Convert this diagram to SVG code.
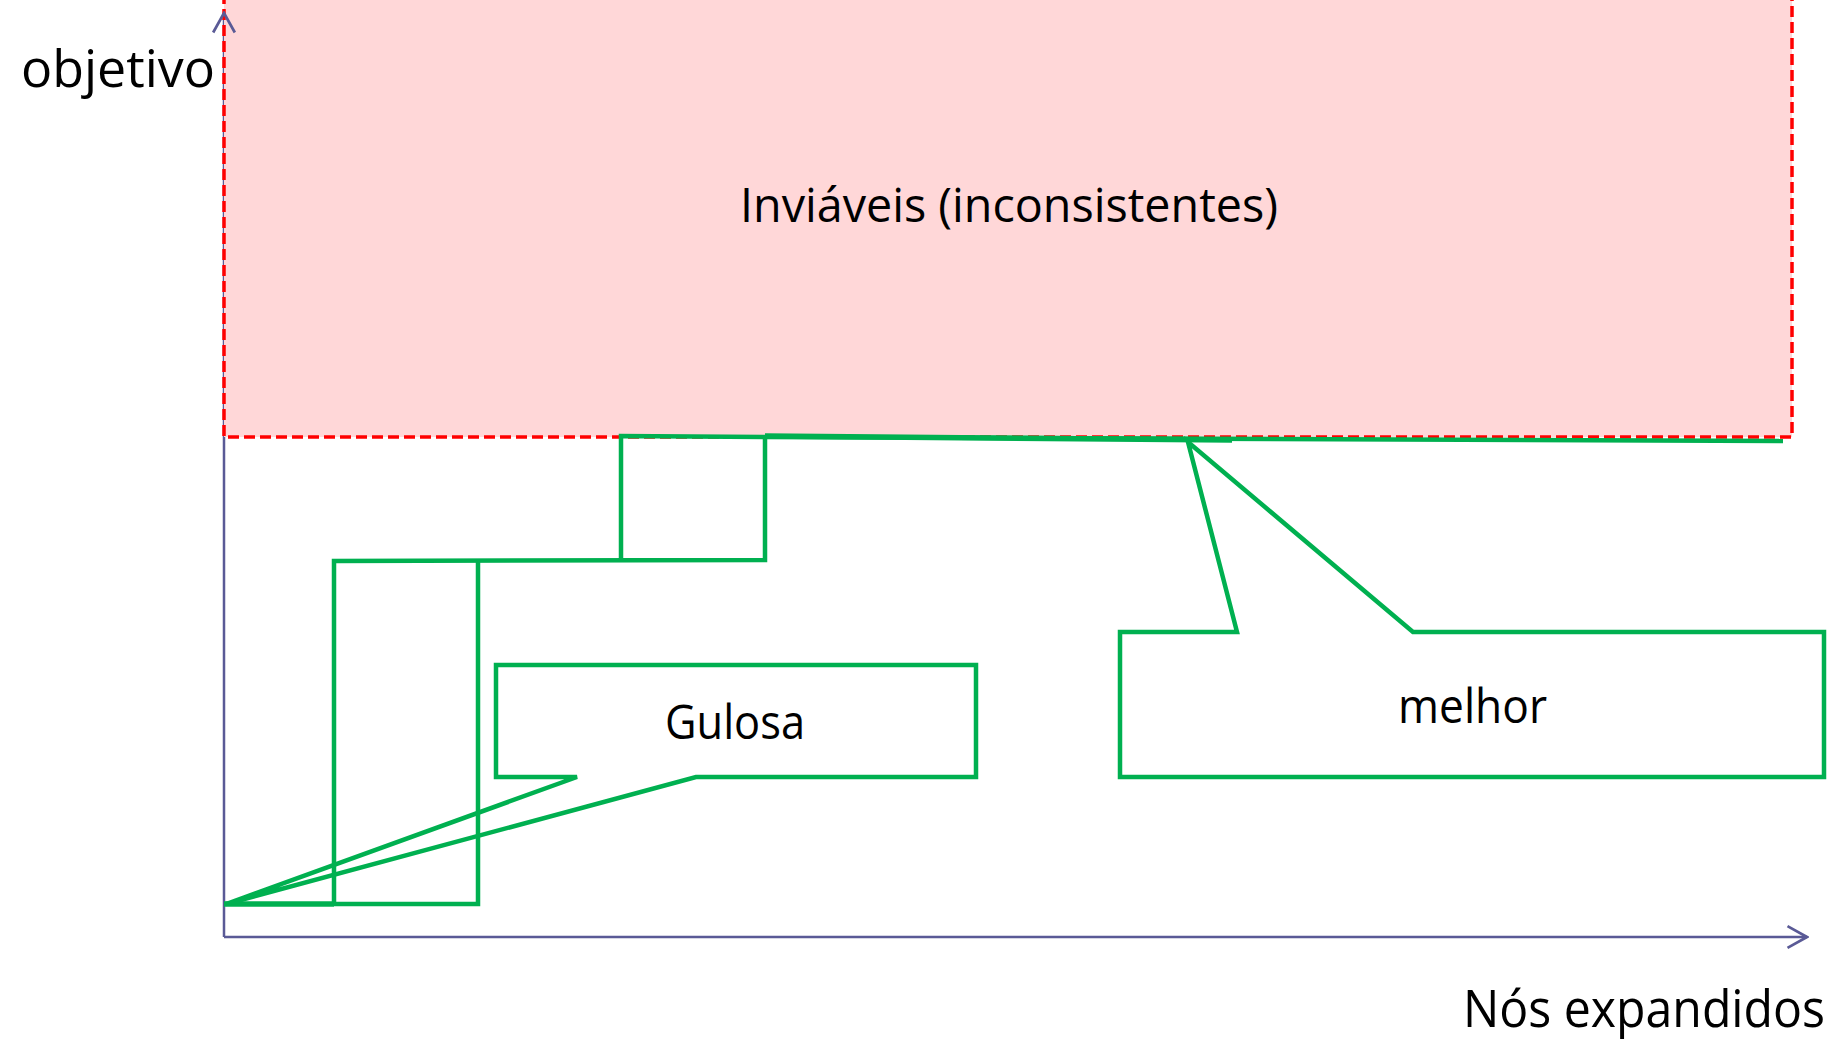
<svg xmlns="http://www.w3.org/2000/svg" width="1847" height="1041" viewBox="0 0 1847 1041">
  <style>
    .axis { stroke: #5A5A96; stroke-width: 2.5; fill: none; }
    .g { stroke: #00B050; stroke-width: 4.5; fill: none; stroke-linejoin: miter; }
    .gt { stroke: #00B050; stroke-width: 5.5; fill: none; }
    .lbl { font-family: "Open Sans", "DejaVu Sans", sans-serif; fill: #000000; }
  </style>
  <defs>
    <marker id="arrow" markerUnits="userSpaceOnUse" markerWidth="24" markerHeight="26" viewBox="-20 -12 22 24" refX="0" refY="0" orient="auto">
      <path d="M-18,-10 L0,0 L-18,10" fill="none" stroke="#5A5A96" stroke-width="2.5"/>
    </marker>
  </defs>
  <rect width="1847" height="1041" fill="#FFFFFF"/>

  <g id="axes">
    <line class="axis" x1="224" y1="937" x2="224" y2="13"/>
    <line class="axis" x1="224" y1="937" x2="1807" y2="937" marker-end="url(#arrow)"/>
  </g>

  <g id="inviaveis">
    <rect x="224" y="-10" width="1568" height="447" fill="#FFD7D8" stroke="#FF0000" stroke-width="3.5" stroke-dasharray="11 5"/>
    <text class="lbl" x="740" y="222" font-size="47" textLength="538" lengthAdjust="spacingAndGlyphs">Inviáveis (inconsistentes)</text>
  </g>

  <g id="y-arrowhead">
    <line class="axis" x1="224" y1="24" x2="224" y2="13" stroke-opacity="0" marker-end="url(#arrow)"/>
  </g>

  <g id="connectors">
    <line class="gt" x1="224" y1="904" x2="334" y2="904"/>
    <polyline class="g" points="334,904 478,904 478,561"/>
    <polyline class="g" points="334,904 334,561 765,560 765,436"/>
    <polyline class="g" points="621,560 621,436 765,437"/>
    <line class="g" x1="765" y1="437" x2="1783" y2="441"/>
    <line class="gt" x1="765" y1="436" x2="1232" y2="440"/>
  </g>

  <g id="gulosa">
    <polygon class="g" points="496,665 976,665 976,777 696,777 226,904 577,777 496,777"/>
    <text class="lbl" x="665" y="739" font-size="47" textLength="140" lengthAdjust="spacingAndGlyphs">Gulosa</text>
  </g>

  <g id="melhor">
    <polygon class="g" points="1120,632 1237,632 1188,442 1413,632 1824,632 1824,777 1120,777"/>
    <text class="lbl" x="1398" y="723" font-size="47" textLength="149" lengthAdjust="spacingAndGlyphs">melhor</text>
  </g>

  <g id="axis-labels">
    <text class="lbl" x="21" y="87" font-size="51" textLength="194" lengthAdjust="spacingAndGlyphs">objetivo</text>
    <text class="lbl" x="1463" y="1027" font-size="51" textLength="362" lengthAdjust="spacingAndGlyphs">Nós expandidos</text>
  </g>
</svg>
